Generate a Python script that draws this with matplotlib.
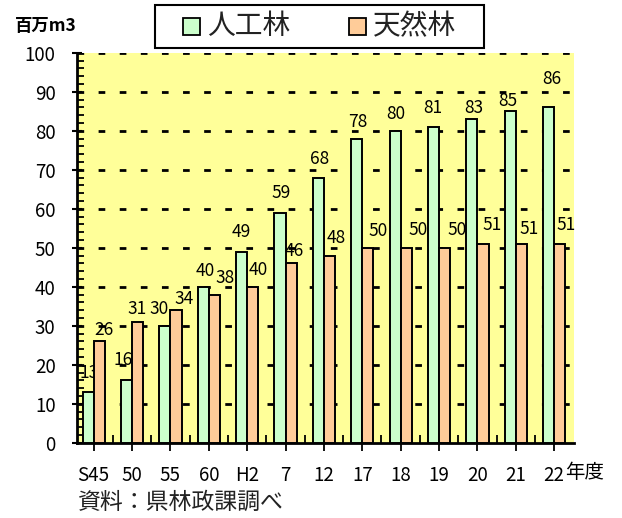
import numpy as np
import matplotlib.pyplot as plt
from matplotlib.patches import Rectangle
from matplotlib.ticker import MultipleLocator

plt.rcParams['font.family'] = ['Noto Sans CJK JP', 'DejaVu Sans']

# 年度ごとの森林蓄積（百万m3）
nendo = ['S45', '50', '55', '60', 'H2', '7', '12', '17', '18', '19', '20', '21', '22']
jinkorin = [13, 16, 30, 40, 49, 59, 68, 78, 80, 81, 83, 85, 86]
tennenrin = [26, 31, 34, 38, 40, 46, 48, 50, 50, 50, 51, 51, 51]

# ラベルのずらし量（px、棒の中心・上端から）
jin_dx = [1, -3, -6, 2, 0, 1, 1, 1, 1, -1, 2, -2, 3]
jin_dy = [19, 20, 17, 16, 20, 20, 19, 17, 17, 19, 11, 10, 28]
ten_dx = [5, 0, 8, 11, 6, 3, 7, 10, 12, 13, 9, 8, 6]
ten_dy = [11, 13, 11, 17, 17, 12, 18, 17, 18, 18, 19, 15, 19]

c_jin = '#ccffcc'
c_ten = '#ffcc99'
px = 0.72  # 1px = 0.72pt (dpi 100)

fig = plt.figure(figsize=(6.22, 5.18), dpi=100)
ax = fig.add_axes([0.124, 0.145, 0.799, 0.753])
ax.set_facecolor('#ffff99')

x = np.arange(len(nendo))
w = 0.29
ax.bar(x - w/2, jinkorin, w, color=c_jin, edgecolor='black', linewidth=1.4, zorder=3)
ax.bar(x + w/2, tennenrin, w, color=c_ten, edgecolor='black', linewidth=1.4, zorder=3)

for i in range(len(nendo)):
    ax.annotate(str(jinkorin[i]), (x[i] - w/2, jinkorin[i]),
                xytext=(jin_dx[i]*px, jin_dy[i]*px), textcoords='offset points',
                ha='center', va='center', fontsize=12.5, zorder=1.5, annotation_clip=False)
    ax.annotate(str(tennenrin[i]), (x[i] + w/2, tennenrin[i]),
                xytext=(ten_dx[i]*px, ten_dy[i]*px), textcoords='offset points',
                ha='center', va='center', fontsize=12.5, zorder=1.5, annotation_clip=False)

ax.set_ylim(0, 100)
ax.set_xlim(-0.43, 12.52)
ax.yaxis.set_major_locator(MultipleLocator(10))
ax.yaxis.set_minor_locator(MultipleLocator(2))
ax.set_xticks(x)
ax.set_xticklabels(nendo)
ax.set_xticks(x[:-1] + 0.5, minor=True)
ax.tick_params(axis='y', which='major', direction='inout', length=7, width=1.5,
               labelsize=13.5, pad=12)
ax.tick_params(axis='y', which='minor', direction='in', length=5, width=1.3)
ax.tick_params(axis='x', which='major', direction='out', length=6, width=1.3,
               labelsize=13.5, pad=10)
ax.tick_params(axis='x', which='minor', direction='in', length=6, width=1.3)

for y in range(10, 101, 10):
    ax.axhline(y, color='black', lw=2, linestyle=(0, (2.4, 5.2)), zorder=2)

for s in ['top', 'right']:
    ax.spines[s].set_visible(False)
ax.spines['left'].set_linewidth(2)
ax.spines['bottom'].set_linewidth(2)

fig.text(15/622, 1 - 26/518, '百万m3', fontsize=12.5, fontweight='bold', va='center')
fig.text(565/622, 1 - 473/518, '年度', fontsize=14, va='center')
fig.text(78/622, 1 - 502/518, '資料：県林政課調べ', fontsize=16.5, color='#222222', va='center')

# 凡例
W, H = 622, 518
fig.add_artist(Rectangle((155/W, 1 - 48/H), 329/W, 43/H, transform=fig.transFigure,
                         facecolor='white', edgecolor='black', lw=1.5))
for x0, col, txt in [(183, c_jin, '人工林'), (349, c_ten, '天然林')]:
    fig.add_artist(Rectangle((x0/W, 1 - 35/H), 17/W, 17/H, transform=fig.transFigure,
                             facecolor=col, edgecolor='black', lw=1.3))
    fig.text((x0 + 24)/W, 1 - 26/H, txt, fontsize=20, va='center', color='#222222')

fig.savefig('out.png', dpi=100)
